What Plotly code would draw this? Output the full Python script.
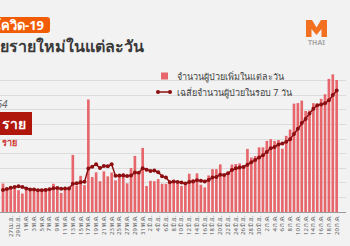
import plotly.graph_objects as go

# Dates 25 Apr - 20 Jul 2564 (2021)
months = [("เม.ย.", 25, 30), ("พ.ค.", 1, 31), ("มิ.ย.", 1, 30), ("ก.ค.", 1, 20)]
dates = []
for m, a, b in months:
    for d in range(a, b + 1):
        dates.append(f"{d} {m}")

daily_cases = [
    2438, 2048, 2179, 2012, 1871, 1583,
    1891, 1940, 2041, 1763, 1911, 2044, 2052, 2419, 2101, 1630, 1919, 1983, 4887, 2256,
    3095, 2302, 9635, 2992, 3394, 2636, 3481, 3052, 3382, 2713, 3226, 3323, 2455, 3759,
    4801, 3224, 5485,
    2230, 2671, 2637, 2817, 2419, 2419, 2671, 2662, 2419, 2230, 2290, 3277, 2804, 3305,
    2331, 2112, 3129, 3667, 3664, 4077, 3175, 3417, 4059, 4108, 4161, 3995, 5406, 4664,
    4786, 5533,
    5533, 6087, 6230, 6087, 6166, 5420, 6519, 7058, 9276, 9326, 9539, 8656, 8685, 9317,
    9186, 9692, 10082, 11397, 11784, 11305,
]

avg7 = [
    1873, 1967, 2072, 2151, 2208, 2139,
    2003, 1932, 1931, 1872, 1857, 1882, 1949, 2024, 2047, 1989, 2011, 2021, 2427, 2456,
    2553, 2582, 3725, 3879, 4080, 3759, 3934, 3927, 4082, 3093, 3126, 3116, 3090, 3130,
    3380, 3357, 3753,
    3611, 3518, 3544, 3409, 3069, 2954, 2552, 2614, 2578, 2520, 2444, 2567, 2622, 2712,
    2665, 2621, 2750, 2946, 3002, 3184, 3165, 3320, 3598, 3738, 3809, 3856, 4046, 4259,
    4454, 4665,
    4868, 5143, 5463, 5560, 5775, 5865, 6006, 6224, 6679, 7122, 7615, 7971, 8437, 8837,
    9141, 9200, 9308, 9574, 10020, 10395,
]

tick_idx = list(range(0, len(dates), 2))
tick_text = [dates[i] for i in tick_idx]

bar_name = "จำนวนผู้ป่วยเพิ่มในแต่ละวัน"
line_name = "เฉลี่ยจำนวนผู้ป่วยในรอบ 7 วัน"

BAR = "#e6666c"
LINE = "#8e0f12"
BG = "#f2f2f2"

x = list(range(len(dates)))
fig = go.Figure()
fig.add_trace(go.Bar(x=x, y=daily_cases, marker_color=BAR, marker_line_width=0,
                     name=bar_name, showlegend=False))
fig.add_trace(go.Scatter(x=x, y=avg7, mode="lines+markers", name=line_name,
                         line=dict(color=LINE, width=1.5),
                         marker=dict(color=LINE, size=4), showlegend=False))

W, H = 350, 246
ml, mr, mt, mb = 0, 4, 66, 34
pw = W - ml - mr
x0 = -0.77
x1 = x0 + pw / 3.88

fig.update_layout(
    width=W, height=H,
    margin=dict(l=ml, r=mr, t=mt, b=mb),
    paper_bgcolor=BG, plot_bgcolor=BG,
    bargap=0.32,
    font=dict(family="Noto Sans, DejaVu Sans, sans-serif", color="#444"),
    xaxis=dict(range=[x0, x1], tickmode="array", tickvals=tick_idx, ticktext=tick_text,
               tickangle=-90, tickfont=dict(size=6, color="#555"), showgrid=False,
               showline=True, linecolor="#999", linewidth=1, ticks="", ticklen=0,
               zeroline=False, fixedrange=True),
    yaxis=dict(range=[0, 12500], dtick=1250, showticklabels=False, gridcolor="#dcdcdc",
               gridwidth=1, zeroline=False, fixedrange=True),
)

def px(xp):
    return (xp - ml) / pw

def py(yp):
    return (H - mb - yp) / (H - mt - mb)

def P(a, b):
    return f"{px(a):.5f},{py(b):.5f}"

shapes = []
ann = []
# header badge (rounded right corners)
r = 3
badge = (f"M {P(-20, 17)} L {P(50 - r, 17)} Q {P(50, 17)} {P(50, 17 + r)} "
         f"L {P(50, 33 - r)} Q {P(50, 33)} {P(50 - r, 33)} L {P(-20, 33)} Z")
shapes.append(dict(type="path", xref="paper", yref="paper", path=badge,
                   fillcolor="#f25c05", line_width=0, layer="above"))
ann.append(dict(text="<b>โควิด-19</b>", x=px(46), y=py(25), xanchor="right", yanchor="middle",
                font=dict(size=13, color="white")))
ann.append(dict(text="<b>จำนวนผู้ป่วยรายใหม่ในแต่ละวัน</b>", x=px(146), y=py(47), xanchor="right",
                yanchor="middle", font=dict(size=16, color="#3a3a3a")))
# logo: M mark drawn as a path, THAI as text
m_pts = [(306, 37), (306, 20), (312, 20), (316.5, 27.5), (321, 20), (327, 20), (327, 37),
         (321.5, 37), (321.5, 29), (316.5, 35), (311.5, 29), (311.5, 37)]
m_path = "M " + " L ".join(P(a, b) for a, b in m_pts) + " Z"
shapes.append(dict(type="path", xref="paper", yref="paper", path=m_path,
                   fillcolor="#f37021", line_width=0))
ann.append(dict(text="<b>THAI</b>", x=px(316.5), y=py(42), xanchor="center", yanchor="middle",
                font=dict(size=7, color="#a8a8a8")))
# legend
shapes.append(dict(type="rect", xref="paper", yref="paper", x0=px(161), x1=px(168),
                   y0=py(79.5), y1=py(72.5), fillcolor=BAR, line_width=0))
shapes.append(dict(type="line", xref="paper", yref="paper", x0=px(158), x1=px(170),
                   y0=py(92), y1=py(92), line=dict(color=LINE, width=1.5)))
for cx in (158, 170):
    shapes.append(dict(type="circle", xref="paper", yref="paper", x0=px(cx - 2), x1=px(cx + 2),
                       y0=py(94), y1=py(90), fillcolor=LINE, line_width=0))
ann.append(dict(text=bar_name, x=px(175), y=py(76), xanchor="left", yanchor="middle",
                font=dict(size=9, color="#444")))
ann.append(dict(text=line_name, x=px(175), y=py(92), xanchor="left", yanchor="middle",
                font=dict(size=9, color="#444")))
# left info
ann.append(dict(text="<i>ข้อมูล ณ 20 ก.ค. 64</i>", x=px(9.5), y=py(104), xanchor="right",
                yanchor="middle", font=dict(size=10, color="#666")))
shapes.append(dict(type="rect", xref="paper", yref="paper", x0=px(-60), x1=px(32),
                   y0=py(135), y1=py(112), fillcolor="#b0170c", line_width=0, layer="above"))
ann.append(dict(text="<b>11,305 ราย</b>", x=px(28), y=py(123.5), xanchor="right",
                yanchor="middle", font=dict(size=14, color="white")))
ann.append(dict(text="<b>สะสม 415,170 ราย</b>", x=px(19), y=py(142), xanchor="right",
                yanchor="middle", font=dict(size=9, color="#d0302a")))

for a in ann:
    a.update(xref="paper", yref="paper", showarrow=False)
fig.update_layout(shapes=shapes, annotations=ann)
fig.write_html("out.html")
